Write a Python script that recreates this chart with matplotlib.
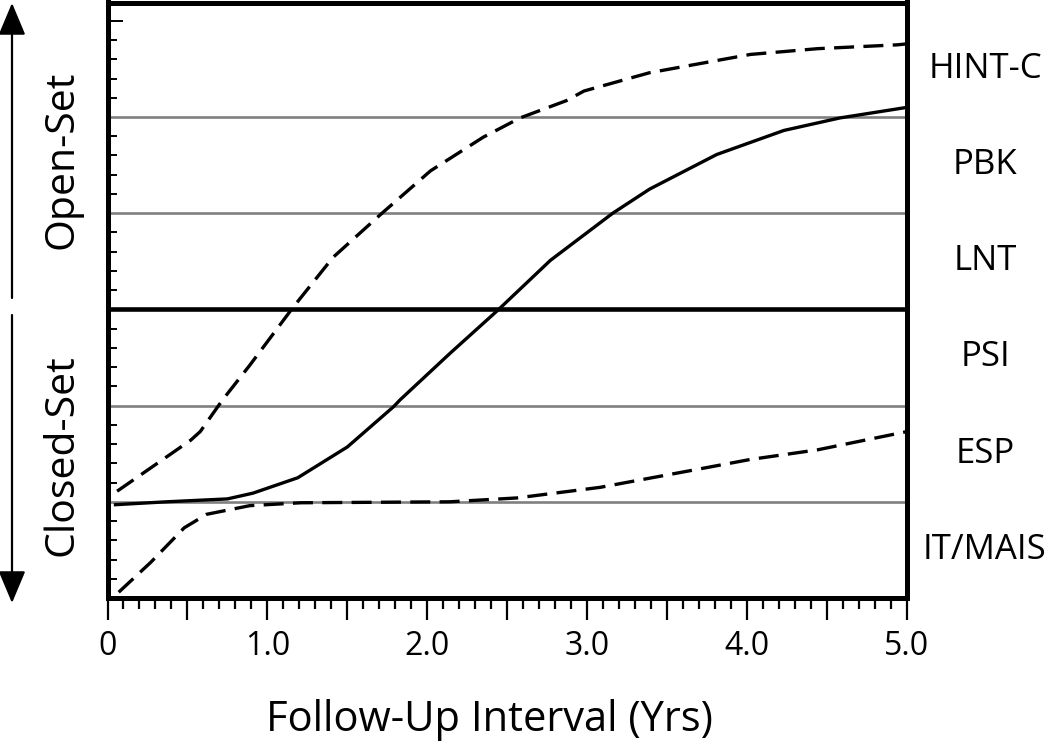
import matplotlib
matplotlib.use("Agg")
import matplotlib.pyplot as plt
import matplotlib.transforms as mtransforms
from matplotlib.ticker import MultipleLocator, FixedLocator

plt.rcParams['font.family'] = ['Open Sans', 'DejaVu Sans']

# --- data (years, band level) ---
hint_x = [0.06, 0.52, 0.58, 0.72, 0.89, 1.16, 1.41, 1.71, 2.02, 2.35, 2.58, 2.87, 2.98, 3.39, 4.02, 4.44, 4.94, 5.0]
hint_y = [1.11, 1.64, 1.73, 2.06, 2.42, 3.02, 3.54, 3.99, 4.44, 4.79, 4.99, 5.17, 5.27, 5.46, 5.65, 5.71, 5.75, 5.76]

pbk_x = [0.05, 0.37, 0.75, 0.91, 1.19, 1.50, 1.79, 1.83, 2.14, 2.44, 2.77, 3.16, 3.39, 3.81, 4.23, 4.58, 5.0]
pbk_y = [0.97, 1.00, 1.03, 1.09, 1.25, 1.57, 1.99, 2.06, 2.54, 2.99, 3.51, 4.00, 4.25, 4.61, 4.86, 4.99, 5.10]

esp_x = [0.07, 0.27, 0.48, 0.62, 0.89, 1.21, 2.14, 2.56, 3.08, 3.60, 4.02, 4.44, 5.0]
esp_y = [0.06, 0.37, 0.73, 0.87, 0.96, 0.99, 1.00, 1.04, 1.15, 1.31, 1.44, 1.54, 1.73]

band_labels = ["IT/MAIS", "ESP", "PSI", "LNT", "PBK", "HINT-C"]
gray_levels = [1, 2, 4, 5]
set_divider = 3
x_tick_vals = [0, 1, 2, 3, 4, 5]
x_tick_labels = ["0", "1.0", "2.0", "3.0", "4.0", "5.0"]

W, H = 1050, 744
fig = plt.figure(figsize=(W / 100, H / 100), dpi=100)
ax = fig.add_axes([107.5 / W, 1 - 598 / H, (907 - 107.5) / W, (598 - 2.5) / H])
ax.set_xlim(0, 5)
ax.set_ylim(0, 6.19)

for lv in gray_levels:
    ax.axhline(lv, color='#808080', lw=1.9, zorder=1)
ax.axhline(set_divider, color='black', lw=3.3, zorder=2)

dash = (6.0, 2.8)
ax.plot(hint_x, hint_y, color='black', lw=2.4, dashes=dash, zorder=3)
ax.plot(pbk_x, pbk_y, color='black', lw=2.4, zorder=3)
ax.plot(esp_x, esp_y, color='black', lw=2.4, dashes=dash, zorder=3)

for s in ax.spines.values():
    s.set_linewidth(3.6)

# x ticks
ax.set_xticks(x_tick_vals + [0.5, 1.5, 2.5, 3.5, 4.5])
ax.set_xticklabels(x_tick_labels + [""] * 5)
ax.xaxis.set_minor_locator(MultipleLocator(0.1))
ax.tick_params(axis='x', which='major', direction='out', length=16, width=1.6, labelsize=23, pad=7)
ax.tick_params(axis='x', which='minor', direction='out', length=8, width=1.6)

# y ticks (inside, no labels)
minor_y = [i * 0.2 for i in range(1, 31) if i % 5 != 0]
ax.yaxis.set_minor_locator(FixedLocator(minor_y))
ax.set_yticks([6])
ax.set_yticklabels([])
ax.tick_params(axis='y', which='major', direction='in', length=11, width=1.4, left=True, right=False)
ax.tick_params(axis='y', which='minor', direction='in', length=6.5, width=1.4, left=True, right=False)

ax.set_xlabel("Follow-Up Interval (Yrs)", fontsize=30, labelpad=26)
ax.xaxis.label.set_x((489 - 107.5) / (907 - 107.5))

# right-side band labels
tr = mtransforms.blended_transform_factory(fig.transFigure, ax.transData)
for i, lab in enumerate(band_labels):
    ax.text(985 / W, i + 0.5, lab, transform=tr, ha='center', va='center', fontsize=25)

fig.text(62 / W, 1 - 160 / H, "Open-Set", rotation=90, ha='center', va='center', fontsize=29.5)
fig.text(62 / W, 1 - 455 / H, "Closed-Set", rotation=90, ha='center', va='center', fontsize=29.5)

ap = dict(arrowstyle='-|>,head_length=1.0,head_width=0.42', lw=1.6, color='black',
          shrinkA=0, shrinkB=0, mutation_scale=20)
ax.annotate("", xy=(12, H - 3), xytext=(12, H - 298), xycoords='figure pixels',
            textcoords='figure pixels', arrowprops=ap, annotation_clip=False)
ax.annotate("", xy=(12, H - 603), xytext=(12, H - 315), xycoords='figure pixels',
            textcoords='figure pixels', arrowprops=ap, annotation_clip=False)

fig.savefig("out.png", dpi=100)
